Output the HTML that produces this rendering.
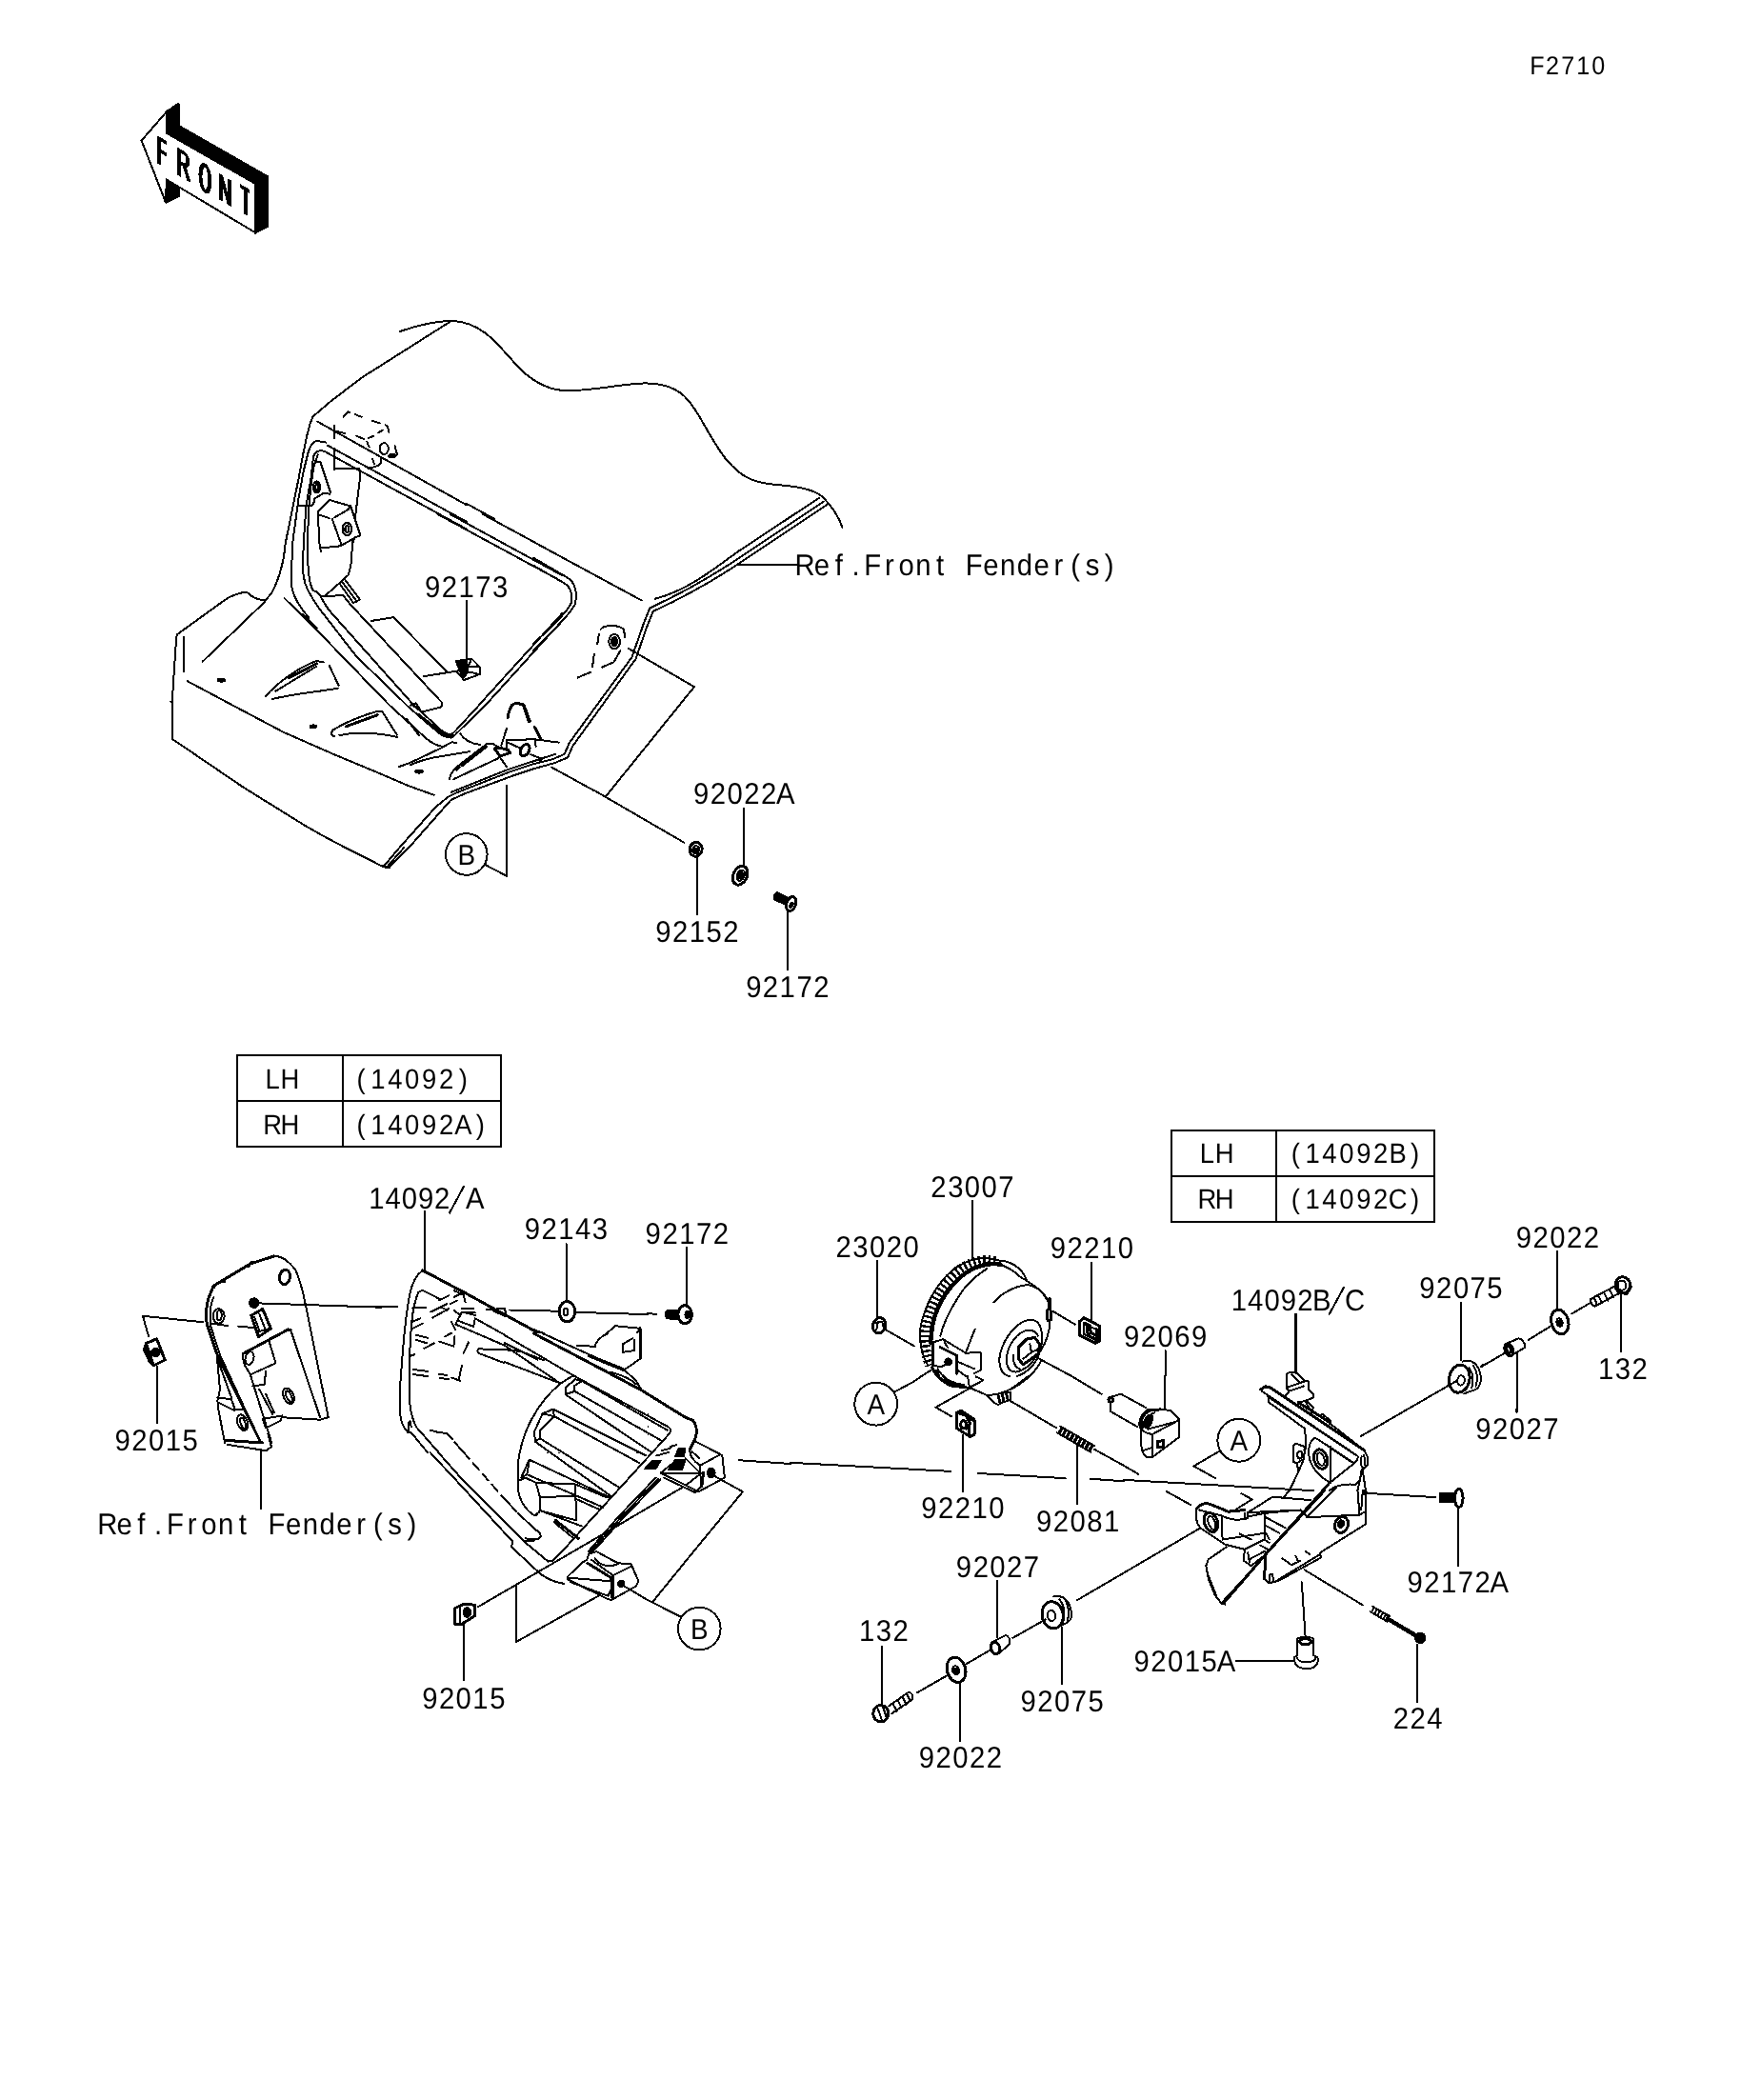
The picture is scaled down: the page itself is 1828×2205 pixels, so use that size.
<!DOCTYPE html>
<html><head><meta charset="utf-8"><title>F2710</title>
<style>
html,body{margin:0;padding:0;background:#fff;}
body{width:1828px;height:2205px;overflow:hidden;font-family:"Liberation Sans",sans-serif;}
svg{display:block;position:absolute;left:0;top:0;}
.l{font-family:"Liberation Sans",sans-serif;text-anchor:middle;fill:#000;}
.a path,.a line,.a polyline,.a circle,.a ellipse,.a rect{fill:none;stroke:#000;stroke-width:2;stroke-linecap:round;stroke-linejoin:round;}
.a .f{fill:#000;}
.a .w{fill:#fff;}
.a .d{stroke-dasharray:9 6;}
.a .t{stroke-width:1.5;}
.a .k{stroke-width:3;}
.a .s{stroke-width:10.5;stroke-dasharray:2.4 2.8;stroke-linecap:butt;}
.a .s6{stroke-width:7;stroke-dasharray:2.8 1.1;stroke-linecap:butt;}
.a .sp{stroke-width:8.5;stroke-dasharray:4.3 0.9;stroke-linecap:butt;}
.a .k4{stroke-width:4.5;}
</style></head><body>
<svg width="1828" height="2205" viewBox="0 0 1828 2205" shape-rendering="crispEdges" text-rendering="geometricPrecision">
<rect x="0" y="0" width="1828" height="2205" fill="#fff"/>

<g class="a">
<path class="k" d="M1360.5,1380.5 L1360.5,1440.8"/>
<path d="M1534,1367.6 L1534,1427.9"/>
<ellipse class="k" cx="1532.3" cy="1447.7" rx="10.68" ry="14.65" transform="rotate(10 1532.3 1447.7)"/>
<ellipse cx="1534.0" cy="1449.4" rx="3.79" ry="5.17" transform="rotate(10 1534.0 1449.4)"/>
<path d="M1535.7,1429.6 C1546,1426.2 1552.9,1433 1554.7,1445.1 C1555.5,1452 1552.9,1457.2 1549.5,1458.9 L1537.4,1463.2"/>
<path d="M1542.6,1436.5 C1546.9,1441.7 1547.8,1450.3 1545.2,1457.2"/>
<path d="M1546.9,1433.9 C1551.2,1439.9 1552.1,1448.6 1549.5,1455.5"/>
<path d="M1528.8,1450.3 L1428.9,1508"/>
<path d="M1555.5,1433.9 L1560,1432.2"/>
<path d="M1350.5,1443.4 L1353.9,1440.8 L1361.7,1441.7 L1370.3,1450.3 L1373.7,1450.3 L1373.7,1458.9 L1378.9,1464.1 L1378.9,1467.5 L1370.3,1471 L1363.4,1472.7"/>
<path d="M1350.5,1443.4 L1350.5,1457.2 L1365.1,1452 L1370.3,1450.3"/>
<path d="M1356.5,1443.4 L1365.1,1452"/>
<path d="M1350.5,1457.2 L1353.9,1460.6 L1349.6,1465.8"/>
<path d="M1353.9,1460.6 L1368.6,1455.5"/>
<path d="M1370.3,1471 L1377.2,1483 L1378.9,1477.9 L1372,1471"/>
<path class="k" d="M1323.8,1458.9 L1328.9,1455.8 L1334.1,1457.2 L1432.3,1522.7"/>
<path d="M1324.6,1460.6 L1425.4,1528.7"/>
<path d="M1331.5,1466.7 L1331.5,1471.8 L1370.3,1500.3"/>
<path d="M1331.5,1466.7 L1421.1,1526.1 L1425.4,1528.7 C1426.3,1531.3 1423.7,1534.7 1422,1536.4"/>
<path class="k" d="M1363.4,1472.7 L1396.1,1493.4"/>
<path d="M1384.9,1487.3 L1388.4,1484.7 L1397,1491.6 L1396.1,1495.1"/>
<path d="M1387.5,1488.2 L1392.7,1491.6"/>
<path d="M1397,1495.1 L1432.3,1522.7 L1435.8,1529.5 L1435.8,1538.2 L1430.6,1543.3 L1434,1565"/>
<path d="M1429.7,1529.5 C1428,1533 1428,1538.2 1430.6,1540.7"/>
<path d="M1432.3,1527.8 L1433.2,1538.2"/>
<path d="M1370.3,1500.3 L1371.1,1520.9"/>
<path d="M1380.6,1509.7 C1375.5,1512.3 1372.9,1520.9 1374.6,1529.5 C1376.3,1539.9 1384.1,1550.2 1396.1,1556.3"/>
<ellipse class="k" cx="1386.7" cy="1532.1" rx="6.89" ry="10.34" transform="rotate(-15 1386.7 1532.1)"/>
<ellipse cx="1386.7" cy="1532.1" rx="3.79" ry="6.89" transform="rotate(-15 1386.7 1532.1)"/>
<path d="M1397,1519.2 L1397,1557.1"/>
<path d="M1380.6,1509.7 L1384.1,1511.5 L1422,1536.4 L1396.1,1557.1 L1387.5,1565"/>
<path d="M1397.9,1520.9 L1418.5,1534.7"/>
<path d="M1358.2,1517.5 L1360.8,1515.8 L1370.3,1519.2 L1369.4,1522.7"/>
<path d="M1358.2,1517.5 L1357.9,1534.7 L1361.7,1536.4 L1366.8,1533"/>
<ellipse cx="1364.8" cy="1527.8" rx="2.58" ry="3.79" transform="rotate(0 1364.8 1527.8)"/>
<path d="M1361.7,1536.4 L1363.4,1545.1 L1353.9,1565"/>
<path d="M1370.3,1520.9 L1368.6,1533 L1363.4,1545.1"/>
<path d="M1396.1,1565 C1403,1558.8 1415.1,1558 1423.7,1558.8 L1428,1553.7 L1429.7,1543.3"/>
<path d="M1425.4,1565 L1428,1553.7"/>
<path d="M1354,1565 L1348.2,1571.7"/>
<path class="k" d="M1394.7,1558.8 L1332.7,1627.7 L1284.4,1683.7"/>
<path d="M1391.3,1565.1 L1331,1630.3"/>
<path d="M1434.3,1565 L1434.3,1600.1 L1386.1,1630.3 L1387,1635.5 L1343,1659.6 L1332.7,1662.2 L1327.5,1657.9"/>
<path d="M1425.4,1565 L1427.5,1590.6 L1372.3,1593.2"/>
<path d="M1427.5,1590.6 L1433.5,1587.2"/>
<path d="M1430.9,1565 L1429.2,1585.5"/>
<path d="M1403.3,1561.4 L1372.3,1592.4"/>
<circle class="f" cx="1432.6" cy="1567.4" r="2.07"/>
<path d="M1435.2,1567.9 L1500,1571.7"/>
<ellipse class="k" cx="1408.5" cy="1601.0" rx="6.89" ry="8.62" transform="rotate(20 1408.5 1601.0)"/>
<ellipse class="f" cx="1408.0" cy="1600.1" rx="3.10" ry="3.79" transform="rotate(20 1408.0 1600.1)"/>
<path d="M1346.5,1636.3 L1355.9,1643.2 L1365.4,1638.9"/>
<path d="M1360.3,1633.7 L1362.8,1638.9"/>
<path d="M1370.6,1628.6 L1374.9,1632"/>
<path d="M1337.9,1661.3 L1386.1,1632"/>
<path class="k" d="M1256.9,1583.8 C1259.4,1579.4 1265.5,1577.7 1270.6,1579.4 L1289.6,1587.2 L1306.8,1585.5"/>
<path d="M1256.9,1583.8 C1254.3,1590.6 1256,1599.3 1260.3,1604.4 L1286.2,1621.7 L1306.8,1626.8 L1327.5,1616.5"/>
<ellipse class="k" cx="1271.5" cy="1598.4" rx="6.89" ry="10.34" transform="rotate(-20 1271.5 1598.4)"/>
<ellipse cx="1272.4" cy="1598.9" rx="3.45" ry="7.24" transform="rotate(-20 1272.4 1598.9)"/>
<path d="M1259.4,1585.5 L1282.7,1591.5 L1283.6,1616.5"/>
<path d="M1282.7,1591.5 C1291.3,1595.8 1301.7,1596.7 1310.3,1594.1 L1310.3,1588.1 L1365.4,1585.5 L1372.3,1592.4"/>
<path d="M1306.8,1588.9 L1306.8,1594.1"/>
<path d="M1310.3,1588.1 L1336.1,1571.7 L1375.8,1575.1"/>
<path d="M1310.3,1592.4 L1327.5,1588.9 L1327.5,1616.5 L1332.7,1619.9"/>
<path d="M1327.5,1588.9 L1355.1,1586.3"/>
<path d="M1327.5,1592.4 L1349.9,1604.4"/>
<path d="M1327.5,1601 L1343,1609.6"/>
<path d="M1283.6,1616.5 L1329.2,1609.6 L1332.7,1616.5"/>
<path d="M1301.7,1610.5 L1313.7,1616.5"/>
<path d="M1323.2,1622.5 L1331,1626.8"/>
<path d="M1306.8,1626.8 L1306,1638.9 L1313.7,1644.1 L1329.2,1632"/>
<path d="M1310.3,1630.3 L1312,1640.6"/>
<path d="M1312,1637.2 L1328.4,1628.6"/>
<path d="M1287.9,1624.3 L1268.9,1637.2 L1266.3,1644.1 L1268.9,1657.9 L1275.8,1675.1 L1282.7,1683.7 L1286.2,1684.6"/>
<path d="M1268.1,1652.7 L1277.5,1676.8"/>
<path d="M1283.6,1682 L1331,1630.3"/>
<path class="k" d="M1327.5,1657.9 L1329.2,1630.3"/>
<path d="M1332.7,1662.2 L1333.5,1653.5 L1336.1,1652.7 L1337,1659.6"/>
<path d="M1260.3,1604.4 L1200,1639.8"/>
<path d="M1303.4,1568.2 L1314.6,1574.3 L1298.2,1584.6"/>
<path d="M1366.8,1661.3 L1370.6,1718.2"/>
<path d="M1362,1721.6 C1362,1718.2 1379.2,1718.2 1379.2,1721.6 L1379.2,1738 L1383.5,1740.6 L1383.5,1745"/>
<path d="M1362,1721.6 L1362,1738 L1358.5,1740.6 L1359.4,1745"/>
<ellipse class="k" cx="1370.6" cy="1723.7" rx="6.03" ry="3.10" transform="rotate(0 1370.6 1723.7)"/>
<path d="M1297.4,1744 L1358.5,1744"/>
<path d="M1369.7,1648.4 L1430.9,1685.4"/>
<path style="stroke-width:2;stroke-linecap:butt" d="M1443,1687.7 L1439.9,1693 M1446.1,1689.4 L1443,1694.7 M1449.2,1691.1 L1446.1,1696.5 M1452.3,1693 L1449.2,1698.3 M1455.4,1694.7 L1452.3,1700.1 M1458.5,1696.5 L1455.4,1701.8"/>
<path d="M1441.2,1686.8 L1459.3,1697.1"/>
<path d="M1438.7,1692.3 L1456.7,1702.7"/>
<path class="k4" d="M1456.7,1699.6 L1486.9,1717.5"/>
<circle class="f" cx="1491.2" cy="1719.9" r="5.17"/>
<path d="M1487.8,1726.8 L1487.8,1745"/>
<path d="M445.8,1272.1 L445.8,1333.6"/>
<path d="M594.5,1306 L594.5,1366.3"/>
<ellipse class="k" cx="595.4" cy="1377.2" rx="8.27" ry="10.68" transform="rotate(0 595.4 1377.2)"/>
<ellipse cx="594.0" cy="1377.2" rx="2.41" ry="3.79" transform="rotate(0 594.0 1377.2)"/>
<path d="M380,1372 L416.7,1372"/>
<path d="M535.1,1375.5 L585.9,1376.7"/>
<path d="M604.9,1377.9 L680,1380.1"/>
<path d="M443.8,1333.9 C436.9,1338.8 432.6,1347.4 430.3,1358.6 C427.4,1372.4 425.7,1389.6 423.9,1406.8 L420.5,1449.9 L420,1482.7 C420.5,1491.3 422.2,1496.4 428.2,1504.2 L431.7,1504.2 L448.9,1525"/>
<path d="M439.4,1356.9 C435.1,1365.5 433.4,1377.5 432,1389.6 L430,1424.1 L429.6,1463.7 C430,1477.5 431.7,1487.8 436.9,1498.2 L460.5,1525"/>
<path d="M429.1,1504.2 L428.8,1494.7 L430.5,1492.1 L431.7,1498.2"/>
<path class="k" d="M443.8,1333.9 L488.6,1357.7 L531.6,1381.3 L555.8,1394.4 L680,1463.7"/>
<path d="M439.4,1356.9 C441.2,1355.1 443.8,1354.8 446.3,1356 L462.7,1364.6"/>
<path d="M498.9,1384.4 L680,1485.2"/>
<path d="M478.2,1390.5 L602.3,1443.9"/>
<path d="M481.7,1387 L497.2,1393 L498.9,1384.4"/>
<path d="M478.2,1390.5 L485.1,1377.5 L498.9,1381"/>
<path d="M502.3,1416.3 C500.6,1418.9 501.5,1420.6 504.1,1421.5 L588.5,1453.4 L602.3,1445.6"/>
<path d="M502.3,1416.3 L543.7,1418 L583.3,1435.3"/>
<path d="M511,1375 L529.9,1374.1 L531.6,1381"/>
<path class="k" d="M517.9,1375.8 L529.9,1381.3"/>
<path d="M559.2,1396.5 L662.6,1444.7 L671.2,1451.6 L672.9,1455.9"/>
<path d="M555.8,1394.4 L607.5,1413.7 L624.7,1414.6"/>
<path d="M617.8,1424.1 L666,1451.6"/>
<path d="M609.2,1417.2 L623,1418.9 L617.8,1424.1"/>
<path d="M624.7,1414.6 C626.4,1406.8 629.9,1403.4 635,1401.7 L646.2,1392.2 L672.1,1394.8 L672.1,1427.5 L655.7,1438.7"/>
<path d="M654,1412 L664.3,1405.1 L672.1,1395.6"/>
<path d="M654,1412 L654,1420.6 L666,1418.9 L666,1406.8"/>
<path class="k" d="M672.1,1394.8 L672.1,1427.5"/>
<path d="M545.4,1525 C548.9,1498.2 562.7,1472.3 586.8,1455.1 L602.3,1445.6"/>
<path d="M593.7,1455.9 L604,1448.2 L610.9,1449.9"/>
<path d="M593.7,1455.9 L593.7,1463.7 L602.3,1462 L604,1455.9 L610.9,1451.6"/>
<path d="M593.7,1464.6 L680,1505.9"/>
<path d="M602.3,1462 L680,1498.2"/>
<path d="M560.9,1501.6 L569.5,1485.2 L580.7,1480.1 L680,1522.3"/>
<path d="M580.7,1480.1 L580.7,1487.8 L669.5,1525"/>
<path d="M569.5,1485.2 L580.7,1487.8"/>
<path d="M560.9,1501.6 L561.8,1513.7 L574.7,1525"/>
<path d="M567.8,1498.2 L580.7,1487.8"/>
<path d="M567,1499.9 L567,1510.2 L586.8,1525"/>
<path d="M452.4,1377.5 L469.6,1368.9 M454.1,1383.6 L471.3,1374.1 M461,1365.5 L471.3,1360.3 M462.7,1372.4 L469.6,1375.8 M476.5,1355.1 L486.8,1359.4 M476.5,1362 L483.4,1358.6 M486.8,1360.3 L488.6,1367.2 M473,1368.9 L479.9,1365.5 M476.5,1375.8 L483.4,1381 M485.1,1374.1 L497.2,1374.1 M485.1,1378.4 L498.9,1378.4"/>
<path d="M433.4,1373.2 L447.2,1373.2 M432.6,1387.9 L441.2,1384.4 M431.7,1395.6 L443.8,1389.6 M430,1424.1 L435.1,1422.3"/>
<path d="M436.9,1401.7 L448.9,1404.8 M436.9,1406.8 L448.1,1410.3 M445.5,1415.8 L455.8,1410.3 M461,1408.6 L476.5,1413.7 M473.9,1387.9 L478.2,1396.5 M477.4,1403.4 L476.5,1412 M467,1403.4 L473.9,1399.9 M486.8,1420.6 L492,1409.4"/>
<path d="M433.4,1437.9 L448.9,1439.9 M433.4,1443 L448.9,1445.1 M461,1443 L469.6,1443.9 M461.8,1447.3 L471.3,1447.8 M473.9,1446.5 L483.4,1449.9 M481.7,1448.2 L485.1,1433.5"/>
<path d="M451.5,1501.6 L461,1504.2 M462.7,1504.2 L469.6,1505.1 L474.8,1511.1 M477.4,1514.5 L486.8,1525"/>
<rect x="530.0" y="1400.0" width="149.9" height="124.9" style="fill:#fff;stroke:none"/>
<path class="k" d="M560.2,1400 L673,1459.4 L719.5,1488.2 L727.3,1491.3 C730.7,1494.8 732,1501.7 730.7,1508.6 L724.7,1521.5"/>
<path d="M569.6,1400 L626.5,1425.8 L654.1,1437 L667.9,1450 L673,1458.6"/>
<path d="M605.8,1412.9 L624.8,1413.8"/>
<path d="M617.9,1424.1 L654.1,1438.8"/>
<path d="M640.3,1440.5 C650.6,1443.1 662.7,1448.2 667.9,1453.4"/>
<path d="M623.9,1414.6 C626.5,1406.9 631.7,1402.6 638.6,1400"/>
<path d="M673,1400 L672.2,1426.7 L654.9,1438.8"/>
<path class="k" d="M673,1400 L672.2,1426.7"/>
<path d="M654.1,1411.2 L664.4,1405.2 M654.1,1411.2 L654.1,1419.8 L666.1,1418.1 L666.1,1406.9"/>
<path d="M530,1402.1 L602.4,1444.5 L702.3,1498.6 C704.9,1500.8 704,1504.3 702.3,1506 L593.8,1625"/>
<path d="M530,1410.3 L564.5,1427.6 M530,1412.9 L586.9,1451.7 M530,1417.2 L547.2,1419 L571.4,1428.4"/>
<path d="M530,1430.2 L588.6,1452.6"/>
<path d="M601.5,1444.5 L588.6,1452.6 C564.5,1472.4 547.2,1503.4 543.8,1537.9 L543.8,1563.7 C545.5,1575.8 552.4,1586.1 561,1591.3 L566.2,1587.8"/>
<path d="M593.8,1456.9 L604.1,1448.2 L611,1450"/>
<path d="M593.8,1456.9 L593.8,1464.1 L602.4,1461.2 L603.2,1455.1 L611,1450"/>
<path d="M611,1450 L700.6,1501.7"/>
<path d="M603.2,1460.7 L693.7,1512.3"/>
<path d="M594.1,1464.6 L683.4,1524.4"/>
<path d="M561,1503.4 L569.6,1484.4 L580.8,1479.6 L678.2,1528.4"/>
<path d="M569.6,1484.4 L581.7,1487 L671.3,1536.1"/>
<path d="M580.8,1479.6 L581.7,1487"/>
<path d="M561,1503.4 L561.9,1513.7 L567,1510.3 L567,1501.7 L581.7,1487"/>
<path d="M567,1510.3 L648.9,1561.1"/>
<path d="M561.9,1513.7 L641.1,1570.6"/>
<path d="M547.2,1551.6 L555.8,1532.7 L640.3,1572.3"/>
<path d="M555.8,1532.7 L553.3,1548.2 L547.2,1551.6"/>
<path d="M553.3,1548.2 L633.4,1582.7"/>
<path d="M543.8,1555.1 L551.5,1551.6 L562.7,1556.8 L604.1,1558.5 L605,1596.4 L567,1586.1 L562.7,1591.3"/>
<path d="M562.7,1556.8 L567,1572.3 L604.1,1570.6"/>
<path d="M567,1572.3 L567,1586.1"/>
<path d="M604.1,1558.5 L636.8,1572.3"/>
<path d="M605,1574 L629.9,1585.2"/>
<path d="M567,1586.1 L611,1602.5"/>
<path class="k" d="M583.4,1596.4 L607.5,1615.4"/>
<path d="M581.7,1598.2 L602.4,1615.4"/>
<path class="f" d="M677.3,1542.2 L685.1,1533.5 L693.7,1533.5 L688.5,1542.2 Z"/>
<path class="f" d="M702.3,1543 L709.2,1532.7 L719.5,1532.7 L716.1,1543 Z"/>
<path class="f" d="M709.2,1529.2 L712.7,1520.6 L719.5,1520.6 L717.8,1529.2 Z"/>
<path d="M689.4,1528.4 L702.3,1524.9 M694.6,1523.2 L704,1520.6 M704,1518.9 L710.1,1517.2"/>
<path d="M730.7,1513.7 L755.7,1526.7 L758.3,1528.4 L760.9,1551.6 L733.3,1566.3 L729.9,1565.4"/>
<path d="M735.1,1538.7 L755.7,1527.5"/>
<path d="M735.1,1538.7 L735.9,1560.3"/>
<path d="M724.7,1521.5 C723,1527.5 728.2,1534.4 735.1,1538.7"/>
<path d="M726.4,1524.1 L734.2,1531"/>
<ellipse class="f" cx="746.8" cy="1546.5" rx="3.79" ry="4.82" transform="rotate(0 746.8 1546.5)"/>
<path class="k" d="M738.5,1546.5 L736.8,1560.3"/>
<path d="M693.7,1546.5 L710.9,1532.7"/>
<path d="M693.7,1546.5 L735.9,1547.3 L719.5,1531"/>
<path d="M693.7,1546.5 L731.6,1565.4"/>
<path d="M697.1,1551.6 L729.9,1567.1 L735.1,1562"/>
<path d="M735.9,1547.3 L721.3,1558.5"/>
<path d="M775.5,1533.2 L830,1537"/>
<path d="M748.8,1549.1 L779.9,1566.3 L731.6,1625"/>
<path d="M716.1,1562 L650.6,1600.7"/>
<path d="M691.1,1552.5 L650.6,1594.7 L623.9,1625"/>
<path d="M693.4,1553.4 L652.7,1595.6 L626.5,1625"/>
<path d="M688.5,1551.6 L648.9,1593 L621.3,1625"/>
<path d="M530,1574 L542.1,1587 M543.8,1588.7 L561,1605.1"/>
<path d="M551.5,1615.4 L564.5,1616.3 L567.9,1613.7 L567,1609.4 L561.9,1605.9"/>
<path d="M551.5,1618 L561,1617.5"/>
<path d="M451.5,1525 L476.5,1551.7 L538.5,1618.9 L536.8,1624.1 L562.7,1648.2 C569.5,1655.1 579.9,1661.1 591.9,1662.8"/>
<path d="M460.1,1525 L486.8,1555.1 L550.6,1618.9 L575.6,1639.6 L580.7,1638.7"/>
<path class="d" d="M486.8,1525 L529.9,1574.1"/>
<path d="M593.7,1624.9 L579.9,1638.7"/>
<path d="M623.8,1624.9 L618.7,1631 L616.1,1637.9"/>
<path d="M626.1,1624.9 L620.9,1631.3"/>
<path d="M621.2,1624.9 L617.8,1629.2"/>
<path d="M650.5,1600.8 L502.3,1687"/>
<path d="M616.1,1637.9 L618.7,1631 L626.4,1629.2 L648.8,1641.3 L662.6,1642.2 L670.4,1660.3 L667.8,1665.4 L641.9,1680.1 L638.5,1679.2 L596.3,1658.5 L596.3,1655.1 L611.8,1640.4 L616.1,1637.9"/>
<path d="M621.2,1637.9 L643.6,1654.2 L662.6,1644.7"/>
<path d="M643.6,1654.2 L643.6,1679.2"/>
<path class="k" d="M616.9,1641.3 L641.9,1656.8 L642.8,1677.5"/>
<path d="M598,1656.8 L641.9,1660.3"/>
<path d="M598.8,1661.1 L638.5,1675.8 L641.9,1668"/>
<circle class="f" cx="652.3" cy="1662.8" r="3.10"/>
<path d="M624.7,1636.1 C628.1,1643 638.5,1646.5 648.8,1642.2"/>
<path d="M542,1665.4 L542,1724 L628.1,1675.8"/>
<path d="M654,1664.6 L680,1680.1"/>
<path class="k" d="M477.4,1688.7 L486.8,1684.4 L498.9,1685.2 L498.9,1696.4 L485.1,1705.1 L477.9,1705.9 Z"/>
<ellipse class="f" cx="490.3" cy="1693.0" rx="3.79" ry="4.82" transform="rotate(0 490.3 1693.0)"/>
<path d="M483.4,1688.7 L483.4,1704.2"/>
<path d="M487.2,1705.9 L487.2,1725"/>
<path d="M487.1,1725 L487.1,1764.1"/>
<path d="M680.1,1680 L714.1,1697.4"/>
<path d="M731.5,1625.1 L685.4,1681.8"/>
<path d="M1021,1261 L1021,1321.7"/>
<path d="M1145.9,1325.5 L1145.9,1386.3"/>
<path d="M1223.5,1418.2 L1223.5,1445"/>
<path class="s" d="M1045.1,1324.4 C1031.3,1321.7 1016.7,1325.5 1004.1,1335.8 C986.9,1351 975.8,1371.6 972.1,1392.3 C970.3,1406.1 971.4,1421.6 976.5,1433.7"/>
<path d="M1046.8,1323.4 C1033,1318.2 1015.8,1321.7 1000.3,1333.7 C983.1,1347.5 971,1371.6 966.7,1392.3 C965,1406.1 966.7,1421.6 974.5,1433.7"/>
<path style="stroke-width:4.5" d="M1050.3,1327.7 C1036.5,1325.1 1021,1330.3 1008.9,1340.6 C993.4,1354.4 983.1,1371.6 978.8,1392.3 L977,1409.5"/>
<path d="M1046.8,1323.4 C1060.6,1323.4 1072.7,1330.3 1077.9,1344.1"/>
<path d="M1050.3,1327.7 C1057.2,1330.3 1064.1,1333.7 1071,1340.6 L1079.6,1345.8 C1088.2,1351 1095.1,1356.1 1100.3,1364.7"/>
<path d="M1043.4,1367.3 C1053.7,1356.1 1067.5,1350.1 1077.9,1349.2 C1086.5,1349.2 1095.1,1356.1 1099.4,1364.7"/>
<path class="k" d="M1102,1363 L1103.7,1385.4"/>
<path d="M1100.3,1364.7 C1102,1375.1 1098.5,1382 1100.3,1387.1"/>
<path d="M1099.4,1375.1 L1099.4,1385.4 L1103.7,1386.3"/>
<path d="M1102,1387.1 C1102.8,1399.2 1098.5,1409.5 1091.6,1419.9"/>
<path d="M1036.5,1332 C1022.7,1340.6 1012.4,1351 1005.5,1363 C996.9,1376.8 990,1390.6 987.4,1402.7"/>
<path d="M1023.6,1395.8 L1014.1,1419.9"/>
<path d="M979.6,1409.5 L990,1406.1 L1014.1,1420.7 L1029.6,1419.9 L1029.6,1438.8 L1022.7,1442.3"/>
<path class="k" d="M979.6,1409.5 L979.6,1433.7"/>
<path class="k" d="M987.4,1414.7 L1004.6,1423.3 L1004.6,1442.3"/>
<circle class="f" cx="995.7" cy="1429.9" r="3.45"/>
<path d="M979.6,1433.7 L988.2,1435.4 L995.1,1431.1"/>
<path d="M1004.6,1429.4 L1022.7,1437.1"/>
<path d="M1005.5,1438.8 L1014.1,1445"/>
<path d="M991.7,1409.5 L995.1,1414.7"/>
<path d="M967.6,1445 L979.6,1437.5"/>
<path d="M983.1,1438.8 L986.5,1445"/>
<path d="M1091.6,1419.9 C1095.1,1409.5 1095.1,1395.8 1089.9,1388.9 C1084.7,1383.7 1074.4,1385.4 1065.8,1394 C1053.7,1406.1 1046.8,1423.3 1050.3,1435.4 C1052,1442.3 1057.2,1445 1060.6,1445"/>
<path d="M1067.5,1445 C1077.9,1442.3 1088.2,1431.9 1091.6,1419.9"/>
<path d="M1089.9,1402.7 C1086.5,1395.8 1077.9,1394.9 1071,1400.1 C1060.6,1407.8 1055.5,1421.6 1057.2,1431.9 C1058.9,1440.6 1065.8,1442.3 1072.7,1438.8 C1081.3,1434.5 1088.2,1425.1 1091.6,1416.4"/>
<path class="k" d="M1069.2,1414.7 L1077.9,1406.1 L1086.5,1404.4 L1091.6,1411.3 L1089.9,1421.6 L1074.4,1432.8 L1069.2,1426.8 Z"/>
<path d="M1081.3,1411.3 L1083,1419.9 M1074.4,1426.8 L1083,1419.9 L1090.8,1416.4"/>
<path d="M1064.1,1423.3 C1063.2,1430.2 1065.8,1435.4 1071,1438"/>
<path d="M1105.4,1376.8 L1128.7,1390.6"/>
<path class="k" d="M1133,1388 L1138.2,1383.7 L1154.5,1392.3 L1154.5,1407.8 L1150.2,1410.4 L1133,1401.8 Z"/>
<path d="M1138.2,1390.6 L1138.2,1400.9 L1150.2,1407"/>
<path d="M1138.2,1390.6 L1153.7,1396.6"/>
<path class="k" d="M1141.6,1392.3 C1139.9,1399.2 1143.3,1404.4 1149.4,1405.2"/>
<path class="k" d="M1151.1,1395.8 L1151.6,1406.1"/>
<path d="M1088.2,1425.1 L1125.2,1445"/>
<path d="M960,1450.3 L967.5,1445"/>
<path d="M983.4,1445 C988.6,1450.2 995.5,1454.5 1000.6,1456.2 L1016.1,1457"/>
<path class="k" d="M990.3,1445 C995.5,1450.2 1000.6,1453.6 1007.5,1455.3"/>
<path d="M1016.1,1445 L1017.9,1457 L1032.5,1449.3 L1024.7,1445.5"/>
<path d="M1017.9,1457.9 L982.5,1477.7 L998.9,1487.2"/>
<path d="M1017.9,1457 L1035.9,1464.8 C1040.3,1470 1043.7,1473.4 1048,1475.1 L1052.3,1472.6 L1060.9,1470 L1060.9,1462.2 L1054,1462.2"/>
<path d="M1035.9,1464.8 C1045.4,1465.1 1054,1462.2 1060.9,1458.8 C1069.5,1452.7 1076.4,1447.6 1079.9,1445"/>
<path class="k" d="M1048,1464.8 L1049.7,1471.7 M1052.3,1463.9 L1054,1470.8 M1056.6,1463.1 L1058.3,1470"/>
<path d="M1059.2,1470 L1109.2,1499.3"/>
<path style="stroke-width:3.3;stroke-linecap:butt" d="M1115.9,1498.1 L1111.6,1505.5 M1119.9,1500.3 L1115.6,1507.9 M1123.8,1502.5 L1119.5,1510.1 M1127.8,1505 L1123.5,1512.4 M1131.8,1507.2 L1127.6,1514.6 M1135.9,1509.4 L1131.6,1516.8 M1139.9,1511.7 L1135.5,1519.3 M1143.8,1513.9 L1139.5,1521.5 M1147.8,1516.3 L1143.5,1523.7"/>
<path d="M1113,1497.5 L1148.8,1517.9"/>
<path d="M1110,1504.4 L1145.4,1524.8"/>
<path d="M1148.8,1521.7 L1180,1538.9"/>
<path d="M1130.7,1518.2 L1130.7,1579.4"/>
<path class="k" d="M1004.1,1483.8 L1009.2,1481.2 L1023,1490.6 L1023,1506.2 L1018.7,1508.7 L1004.1,1499.3 Z"/>
<ellipse class="k" cx="1011.8" cy="1495.8" rx="3.10" ry="4.14" transform="rotate(0 1011.8 1495.8)"/>
<path class="k" d="M1017,1496.7 L1017.9,1505.3"/>
<path d="M1016.1,1495.8 L1017.9,1506.2 M1009.2,1482 L1023,1493.2"/>
<path d="M1011,1507 L1011,1566.5"/>
<path d="M830,1535.8 L998,1544.9"/>
<path d="M1027.3,1547 L1118.7,1552.2"/>
<path d="M1144.5,1552.7 L1180,1555.3"/>
<path d="M1125.2,1445 L1156.6,1463.9"/>
<path d="M1223.2,1445 L1223.2,1479.9"/>
<path d="M1165.5,1467 C1162.9,1467.9 1162.9,1472.2 1166.3,1473 L1165.5,1481.7 L1193.9,1498"/>
<path d="M1168.9,1466.2 L1176.7,1463.6 L1203.4,1478.2"/>
<path d="M1165.5,1467 L1168.9,1466.2"/>
<path class="k" d="M1198.2,1500.6 C1194.8,1493.7 1198.2,1485.1 1205.1,1480.8 L1218.9,1479.9"/>
<path d="M1218.9,1479.9 L1228.4,1480.8 L1237.9,1490.3 L1237.9,1509.2 L1210.3,1529.9 L1203.4,1529.9 C1199.9,1526.5 1198.2,1521.3 1198.2,1516.1 L1198.2,1500.6"/>
<path d="M1205.1,1500.6 L1234.4,1492.9"/>
<path d="M1210.3,1505.8 L1210.3,1529.9"/>
<path d="M1210.3,1505.8 L1234.4,1492.9 L1237.9,1490.3"/>
<path d="M1200.8,1523 L1208.6,1520.4"/>
<path d="M1199.1,1500.6 C1200.8,1504.1 1206.8,1505.8 1210.3,1505.8"/>
<path class="k" d="M1199.1,1498.9 C1196.5,1492 1199.9,1484.3 1207.7,1480.8"/>
<path d="M1203.4,1498.9 C1201.7,1492 1205.1,1486 1212,1483.4"/>
<path class="k" d="M1215.1,1513.5 L1221.5,1512.7 L1221.5,1519.6 L1215.1,1519.9 Z"/>
<path d="M1180,1538.9 L1195.6,1548"/>
<path d="M1224.9,1566.1 L1249.9,1579.9"/>
<path d="M1180,1553.9 L1379.1,1565.2"/>
<path d="M1280.1,1523.9 L1253.4,1539.4 L1275.8,1552"/>
<ellipse class="f" cx="1205.5" cy="1492.3" rx="3.79" ry="7.24" transform="rotate(25 1205.5 1492.3)"/>
<circle class="k" cx="1166.2" cy="1469.9" r="2.24"/>
<path d="M1093.6,1428.2 C1087.9,1439.7 1076.4,1451.2 1060.3,1459.3"/>
<path class="k" d="M978.7,1436.3 C983.3,1446.6 993.7,1454.7 1014.3,1456.7"/>
<path d="M984.5,1437.4 C989.1,1445.5 998.2,1452.4 1012,1454.1"/>
<path class="k" d="M1007.4,1484 L1014.3,1486.3 L1018.9,1494.9 L1014.3,1500"/>
<path class="k" d="M1138.4,1389.2 L1144.1,1391.5 L1145.3,1399.5 L1150,1401.8"/>
<path class="k" d="M220.6,1358.9 L224.1,1350.3 L262.8,1327 L287.8,1318.9"/>
<path d="M287.8,1318.9 C294.7,1318.4 303.3,1324.5 310.2,1333.1 C315.4,1345.1 318.8,1358.9 321.4,1372.7 L344.7,1488.2 L336.1,1490.7 L296.4,1488.2"/>
<path class="k" d="M220.6,1358.9 C217.2,1365.8 215.5,1379.6 217.2,1389.9 L227.5,1421 L274,1515"/>
<path d="M224.1,1362.4 C220.6,1371 219.8,1383 221.5,1393.4 L231,1422.7 L272.3,1512.3"/>
<path d="M261.1,1330.5 L263.7,1325.3 L272.3,1324.5"/>
<path d="M224.9,1352 L227.5,1346.9 L236.1,1346"/>
<ellipse class="k" cx="299.0" cy="1340.8" rx="5.51" ry="7.75" transform="rotate(10 299.0 1340.8)"/>
<circle class="f" cx="266.8" cy="1368.1" r="4.82"/>
<path d="M271.5,1368.4 L400,1372.7"/>
<ellipse cx="229.6" cy="1381.8" rx="6.03" ry="7.75" transform="rotate(0 229.6 1381.8)"/>
<ellipse cx="230.1" cy="1381.3" rx="2.58" ry="5.17" transform="rotate(0 230.1 1381.3)"/>
<path d="M223.2,1389.9 L238.7,1392"/>
<path d="M249.9,1392.5 L267.1,1394.3"/>
<path class="k" d="M263.7,1381.3 L275.8,1374.4 L284.4,1395.1 L271.5,1403.7 Z"/>
<path d="M267.1,1383 L272.3,1396.8 M272.3,1379.6 L278.3,1395.1 M269.7,1398.6 L282.7,1395.1"/>
<path d="M212.9,1388.2 L150,1381.8 L156,1402.9"/>
<path class="k" d="M153.4,1410.6 L164.6,1405.8 L173.2,1427.9 L161.2,1433.9 Z"/>
<circle class="f" cx="163.4" cy="1420.1" r="4.31"/>
<path class="f" d="M150.8,1416.7 L153.4,1410.6 L161.2,1433.9 L156.9,1430.4 Z"/>
<path d="M165,1434.7 L165,1494.2"/>
<path class="k" d="M255.9,1421 L302.5,1396 L305.1,1396.5"/>
<path d="M305.1,1396.5 L336.1,1488.2"/>
<path d="M255.9,1421 C254.2,1424.4 255.1,1427.9 256.8,1433 L262.8,1443.4 L289.5,1431.3 L282.7,1408.9"/>
<ellipse cx="262.0" cy="1426.1" rx="4.31" ry="6.89" transform="rotate(15 262.0 1426.1)"/>
<path d="M262.8,1443.4 L285.2,1515"/>
<path d="M265.4,1455.4 L277.5,1453.7 L279.2,1439.9"/>
<path d="M272.3,1458.9 L286.1,1484.7"/>
<path d="M279.2,1464 L287.8,1483"/>
<ellipse cx="303.0" cy="1465.8" rx="5.17" ry="8.62" transform="rotate(-25 303.0 1465.8)"/>
<ellipse cx="303.3" cy="1466.1" rx="2.58" ry="6.03" transform="rotate(-25 303.3 1466.1)"/>
<path d="M275.8,1489.9 L296.4,1486.4 L294.7,1491.6 L279.2,1499.4 Z"/>
<path d="M227.5,1421 L231,1458.9 L228.4,1470.9 L229.2,1479.5 L236.1,1515"/>
<path d="M228.4,1467.5 L243,1469.2 L246.5,1479.5 L255.9,1480.4"/>
<path d="M229.2,1472.7 L246.5,1481.3"/>
<path d="M227.5,1424.4 L243,1467.5"/>
<ellipse cx="254.6" cy="1493.7" rx="5.17" ry="8.62" transform="rotate(-20 254.6 1493.7)"/>
<ellipse cx="255.1" cy="1494.2" rx="2.41" ry="5.86" transform="rotate(-20 255.1 1494.2)"/>
<path class="k" d="M236.1,1512.3 L275.8,1515"/>
<path d="M239,1516.9 L279.3,1523.2 L284.9,1519.1 L281.5,1505.7"/>
<path d="M274.1,1523.6 L274.1,1584.5"/>
<path d="M720.8,1309.6 L720.8,1370.3"/>
<ellipse class="k" cx="719.1" cy="1380.3" rx="7.24" ry="9.48" transform="rotate(0 719.1 1380.3)"/>
<ellipse class="f" cx="721.7" cy="1380.3" rx="2.24" ry="3.45" transform="rotate(0 721.7 1380.3)"/>
<path class="f" d="M700.5,1375.8 L711.7,1375.5 L711.7,1384.8 L700.5,1384.4 C698.3,1382.3 698.3,1378 700.5,1375.8 Z"/>
<path d="M680,1379.2 L689.6,1379.8"/>
<path d="M921.1,1323.4 L921.1,1383.2"/>
<ellipse class="k" cx="923.1" cy="1391.8" rx="6.55" ry="8.27" transform="rotate(15 923.1 1391.8)"/>
<path d="M918.5,1389.2 L926.2,1387.5 L927.9,1394.4 M920.2,1396.1 L921.9,1388.4"/>
<path d="M929.7,1396.1 L960,1413.4"/>
<path d="M939.1,1461.6 L960,1450.4"/>
<ellipse class="k" cx="730.6" cy="891.8" rx="6.55" ry="7.41" transform="rotate(15 730.6 891.8)"/>
<ellipse cx="730.6" cy="892.2" rx="3.45" ry="4.14" transform="rotate(15 730.6 892.2)"/>
<ellipse class="f" cx="730.6" cy="892.5" rx="1.55" ry="1.90" transform="rotate(15 730.6 892.5)"/>
<path d="M731.9,899.9 L731.9,960.3"/>
<path d="M781,848.8 L781,909.4"/>
<ellipse class="k" cx="777.2" cy="919.2" rx="7.24" ry="10.34" transform="rotate(25 777.2 919.2)"/>
<ellipse cx="777.7" cy="919.2" rx="3.79" ry="5.86" transform="rotate(25 777.7 919.2)"/>
<ellipse class="f" cx="777.7" cy="919.2" rx="2.24" ry="3.45" transform="rotate(25 777.7 919.2)"/>
<ellipse class="k" cx="830.6" cy="949.1" rx="4.82" ry="7.75" transform="rotate(20 830.6 949.1)"/>
<ellipse class="f" cx="830.9" cy="950.3" rx="1.38" ry="2.76" transform="rotate(20 830.9 950.3)"/>
<path class="f" d="M812.5,940.4 L815.9,937 L828,943 L825.4,949.9 L813.4,944.7 Z"/>
<path d="M826.8,957.7 L826.8,1018"/>
<path d="M1634.9,1313.4 L1634.9,1374.3"/>
<ellipse class="k" cx="1637.8" cy="1388.0" rx="8.96" ry="12.92" transform="rotate(-15 1637.8 1388.0)"/>
<ellipse cx="1637.5" cy="1388.6" rx="3.10" ry="4.31" transform="rotate(-15 1637.5 1388.6)"/>
<ellipse class="f" cx="1637.5" cy="1388.6" rx="1.55" ry="2.24" transform="rotate(-15 1637.5 1388.6)"/>
<path d="M1650.4,1379.4 L1669.4,1368.2"/>
<path d="M1670.2,1363.9 L1699.5,1348.4"/>
<path d="M1674.5,1371.7 L1703,1356.2"/>
<ellipse cx="1673.2" cy="1367.4" rx="2.58" ry="4.31" transform="rotate(-25 1673.2 1367.4)"/>
<path d="M1678,1360.5 L1682.3,1368.2 M1684,1357 L1688.3,1365.6 M1690,1354.4 L1694.3,1362.2 M1695.2,1351 L1699.5,1358.7"/>
<ellipse class="k" cx="1703.8" cy="1349.3" rx="7.75" ry="8.62" transform="rotate(0 1703.8 1349.3)"/>
<ellipse cx="1703.0" cy="1349.6" rx="4.31" ry="5.17" transform="rotate(0 1703.0 1349.6)"/>
<path class="k" d="M1698.7,1356.2 L1708.1,1358.7 L1712.4,1351"/>
<path d="M1702.1,1359.6 L1702.1,1419.6"/>
<path d="M1629.7,1391.5 L1604.7,1407"/>
<path d="M1580.6,1411.3 L1594.4,1405.3 C1597.9,1405.3 1601.3,1409.6 1601.3,1414.7 L1588.4,1422.5"/>
<ellipse class="k" cx="1584.4" cy="1417.3" rx="4.31" ry="6.55" transform="rotate(-20 1584.4 1417.3)"/>
<ellipse cx="1584.4" cy="1417.3" rx="1.72" ry="3.45" transform="rotate(-20 1584.4 1417.3)"/>
<path d="M1592.7,1421.6 L1592.7,1482.8"/>
<path d="M1554.8,1435.4 L1579.8,1420.8"/>
<path d="M1499.9,1571.7 L1506.8,1572.2"/>
<path class="f" d="M1512,1567.9 L1527.5,1567.9 L1527.5,1576.8 L1512,1576.8 Z"/>
<ellipse class="k" cx="1531.8" cy="1573.0" rx="4.31" ry="9.48" transform="rotate(0 1531.8 1573.0)"/>
<path d="M1531.3,1583 L1531,1643.7"/>
<path d="M1592.1,1480 L1592.1,1482.6"/>
<path d="M1047,1659.7 L1047,1718.8"/>
<path d="M926,1728.4 L926,1790"/>
<path d="M1114.8,1708.5 L1114.8,1768.2"/>
<path d="M1008,1767 L1008,1827.9"/>
<ellipse class="k" cx="1105.2" cy="1695.8" rx="11.03" ry="14.24" transform="rotate(-10 1105.2 1695.8)"/>
<ellipse cx="1104.0" cy="1696.5" rx="4.14" ry="5.51" transform="rotate(-10 1104.0 1696.5)"/>
<path d="M1106.3,1676.3 C1118.9,1674 1124.7,1684.3 1125.1,1695.8 C1124.7,1700.4 1122.4,1703.2 1118.9,1704.5 L1109.8,1708.5"/>
<path d="M1112.1,1679.3 C1117.8,1685.5 1118.9,1695.8 1116.2,1703.9"/>
<path d="M1116.6,1677.4 C1122.4,1684.3 1123.1,1694.7 1120.8,1702.3"/>
<path d="M1130.9,1680.2 L1200,1639.8"/>
<path d="M1097.8,1700.4 L1063.3,1719.9"/>
<path d="M1043.6,1723.4 L1055.8,1717 C1059.2,1717.6 1061,1722.2 1060.4,1726.1 L1048.9,1736"/>
<ellipse class="k" cx="1045.0" cy="1730.3" rx="4.60" ry="6.43" transform="rotate(-15 1045.0 1730.3)"/>
<path d="M1039.7,1732.6 L1015.1,1746.8"/>
<ellipse class="k" cx="1004.1" cy="1753.3" rx="9.65" ry="13.33" transform="rotate(-15 1004.1 1753.3)"/>
<ellipse cx="1003.6" cy="1753.9" rx="3.45" ry="4.60" transform="rotate(-15 1003.6 1753.9)"/>
<ellipse class="f" cx="1003.6" cy="1753.9" rx="1.61" ry="2.30" transform="rotate(-15 1003.6 1753.9)"/>
<path d="M994.9,1759 L962.7,1777.4"/>
<path d="M933.3,1791.2 L954,1776.7 C957.7,1777.4 959.3,1780.8 958.1,1784.3 L936.3,1799.2"/>
<path d="M937.4,1788.9 L941.6,1796.5 M942.5,1785.4 L946.6,1792.8 M947.8,1782 L951.7,1789.6 M952.4,1779 L955.8,1785.9"/>
<ellipse class="k" cx="924.8" cy="1799.2" rx="8.04" ry="8.73" transform="rotate(0 924.8 1799.2)"/>
<path d="M921.4,1793.5 L926,1806.1 M927.1,1792.3 L931,1803.8"/>
<path d="M1359.4,1745 C1361.5,1754.7 1382.2,1754.7 1383.6,1745"/>
<path d="M1361.5,1740.2 C1363.8,1747.1 1379.9,1747.1 1381.7,1740.2"/>
<path d="M1487.9,1745 L1487.9,1786.8"/>
<path d="M420.1,347.9 C436.5,342.4 455.4,337.2 473.5,336.9 C489.9,337.2 501.9,343.3 512.3,351.9 C524.3,362.2 534.7,375.1 545,386.3 C557.1,398.4 570.9,407.9 590,409.9"/>
<path d="M473.5,337.2 L379.6,396.7 L346.9,421.7 L328.8,437.2"/>
<path d="M489.9,528.8 L519.2,545"/>
<path d="M489.9,548 L484.7,545"/>
<path d="M328.5,437.2 L325.6,444.7 L322.2,457.9 L318.1,477.4 L313.5,502.7 L307.2,533.7 L299.8,570"/>
<path d="M342.3,464.6 L331.9,462.7 C328.5,464.8 325.6,468.2 323.9,474 L318.7,494.7 L313.5,523.4 L307.2,570"/>
<path d="M341.1,473.8 L336,473.1 C331.9,474 329.6,476.3 328.8,480.9 L326.8,500.4 L321.6,530.3 L318.7,570"/>
<path d="M333.7,477.4 L329.6,488.9 L326.8,507.3 L324.5,530.3 L322.7,570"/>
<path d="M312.4,530.9 L326.8,530.9 C328.5,530.3 329.6,528.6 329.6,526.8 L329.6,524 L340,517.6 L346.3,518.8 L346.9,516.5 L336.5,485.5 L332.5,484.9"/>
<ellipse cx="332.5" cy="511.3" rx="3.68" ry="5.97" transform="rotate(0 332.5 511.3)"/>
<ellipse cx="332.7" cy="511.3" rx="1.38" ry="3.91" transform="rotate(0 332.7 511.3)"/>
<path d="M333.4,442.7 L490,530.3"/>
<path d="M344,467.7 L490,547.9"/>
<path d="M340.5,473.8 L490,555.6"/>
<path d="M350.9,446.7 L350.9,460.2"/>
<path d="M352.6,452.7 L361.8,455"/>
<path d="M350.9,470.5 L350.9,493.5"/>
<path d="M352,491.8 L377.3,491.8 L378.5,498.1 L372.7,545.2"/>
<path class="d" d="M360.6,437.8 L365.8,432.4 L379.6,437.8 M390.5,441.8 L406.6,447 L409.5,457.3 M402,451.6 L396.8,454.5 M392.2,457.9 L386.5,460.2 M381.9,460.8 L374.4,457.9 M385.3,463.7 L387.6,469.4 M391.1,482 L392.8,487.2"/>
<ellipse cx="403.2" cy="471.1" rx="4.60" ry="5.97" transform="rotate(0 403.2 471.1)"/>
<path d="M414.6,468.2 L416.9,476.9 L414.6,479.7 L408.3,479.7"/>
<path class="f" d="M407.7,479.2 L410.6,476.9 L414.6,477.4 L414.1,479.7 Z"/>
<path d="M400.3,482 C401.4,486.6 398,490.1 387.6,491.2 L386.5,491.8"/>
<path d="M333.7,537.7 L346.3,525.1 L368.1,531.4 L378.5,562.4 L372.7,564.2 L370.4,570"/>
<path d="M333.7,537.7 L335.4,570"/>
<path d="M335.4,540.6 L345.7,544.1"/>
<path d="M350.9,543.5 L365.8,534.9"/>
<path d="M348.6,544.6 L357.8,570"/>
<path d="M368.1,531.4 L365.2,534.9"/>
<ellipse cx="364.4" cy="555.6" rx="4.82" ry="6.32" transform="rotate(0 364.4 555.6)"/>
<ellipse cx="364.4" cy="555.6" rx="2.07" ry="3.68" transform="rotate(0 364.4 555.6)"/>
<path d="M590,410 C618.6,411.7 646.2,403.4 677.2,402.4 C697.9,402.4 711.6,407.6 722,419.6 C735.8,435.1 746.1,462.7 763.3,483.4 C777.1,498.9 787.5,505.8 808.1,508.2 C828.8,510.3 849.5,511 863.3,521.3 C873.6,531.6 880.5,542 884.6,554"/>
<path d="M859.8,523 L773.7,579.9 C746.1,600.6 718.5,621.2 687.5,628.8"/>
<path d="M865,526.5 L766.8,591.9 C732.3,614.3 704.7,628.1 682.3,638.5 L675.5,655.7 L663.4,690.2 L597.9,779.8 L592.7,791.8 L580.7,797 L560,802.2"/>
<path d="M868.4,529.9 L770.2,595.4 C735.8,617.8 708.2,631.6 685.8,641.9 L678.9,659.1 L667.5,691.9 L601.4,783.2 L596.2,795.3 L582.4,801.1 L560,807.3"/>
<path d="M775.4,593 L835.7,593"/>
<path d="M560,568.9 L673.7,630.5"/>
<path d="M560,585.7 L596.2,606.8 C603.1,610.9 606.5,621.2 604.1,633.3 C601.4,641.9 580.7,662.6 560,683.3"/>
<path d="M560,593.7 L592.7,612.6 C598.6,616.1 601.4,623 599.6,633.3 C596.2,641.9 577.2,660.9 560,675.7"/>
<path d="M659.9,680.9 L728.9,721.2 L641,830.1"/>
<path d="M579,805.6 L623.8,830.1"/>
<ellipse cx="645.1" cy="673.6" rx="5.86" ry="7.58" transform="rotate(0 645.1 673.6)"/>
<ellipse class="f" cx="645.1" cy="673.6" rx="3.10" ry="4.48" transform="rotate(0 645.1 673.6)"/>
<path d="M630.6,660.9 C634.1,655.7 649.6,655.7 654.8,660.9 L656.5,669.5"/>
<path d="M628.9,666 L627.2,676.4 M623.8,686.7 L622,700.5 M606.5,711.5 L620.3,705.7 M632.4,700.5 L644.4,695.3 L651.3,683.3"/>
<path d="M294.4,600 C291,610.3 288.4,619 284.1,624.1 L278.9,630.2 C272,630.2 265.1,627.6 259.9,622.4 L253.9,622.4 C246.2,624.1 241,626.7 235.8,630.2 L185.8,666.3 C184.1,672.4 185,681 183.3,696.5 L180.7,737.9 L180.7,775.8 L253,825"/>
<path d="M278,631.9 L212.6,694.8"/>
<path d="M192.7,668.6 L192.7,705.5"/>
<path d="M196.5,715.1 L246.2,741.6 L297.9,768.9 L349.5,791.6 L401.2,813.2 L428.8,825"/>
<ellipse class="f" cx="232.4" cy="714.1" rx="3.79" ry="1.55" transform="rotate(0 232.4 714.1)"/>
<ellipse class="f" cx="328.9" cy="762.8" rx="3.45" ry="1.38" transform="rotate(0 328.9 762.8)"/>
<ellipse class="f" cx="440.0" cy="810.2" rx="3.79" ry="1.38" transform="rotate(0 440.0 810.2)"/>
<path d="M278.9,731 C291,717.2 311.6,701.7 332.3,693.9 L340.1,695.6"/>
<path class="k" d="M303,712 L332.3,696.8"/>
<path d="M289.2,725.8 L332.3,699.6"/>
<path d="M345.8,699.1 L355.6,719.8"/>
<path d="M285.4,734.1 C308.2,728.4 332.3,726.7 354.7,722.7"/>
<path d="M351.3,773.2 C347,772.3 347,768 351.3,765.4 C363.3,758.5 382.3,750.8 396.1,746.8 L401.2,746.8 L416.7,771.5"/>
<path class="k" d="M363.3,762.8 L396.1,750.8"/>
<path d="M356.4,772 C375.4,768 397.8,769.7 417.6,774"/>
<path d="M418.5,805.1 C432.3,801.6 449.5,791.3 460,787"/>
<path d="M430.5,803.3 C442.6,798.2 452.9,795.6 460,794.7"/>
<path d="M427.1,755.1 L440,772.3"/>
<path d="M179.3,736.5 L181,736.5"/>
<path d="M299.8,570 C298.6,583.1 296.9,591.7 294.3,600"/>
<path d="M307.2,570 L305.9,605.5 C305.9,612.4 306.4,617.5 307.2,620 C309.5,629.1 315.3,638.4 324.5,648.7"/>
<path d="M298.6,628.1 L331.4,660.3 L408.4,739.9"/>
<path class="k" d="M317.6,645.1 L332.2,659.8"/>
<path d="M318.8,570 L317.9,596.9 C318.4,608.9 321,617.5 327,626.2 C329.6,631.3 333.1,636.5 340,645.1 L373.9,688.9 L426.5,739.9"/>
<path d="M322.7,570 L323.6,596.9 C324.5,608.9 326.2,615.8 328.8,620.1 L332.2,621 L335.7,624.4 C340,633 343.4,638.2 347.4,642.9 L433.5,739.4"/>
<path d="M338.2,626.2 L360.1,625.1 L368.1,634.9 L463.5,737.1 C465.2,739.4 464.6,741.8 462.3,742.8 L442.8,747.5 L433.5,740.6"/>
<path d="M431.3,740.7 L436.5,738.2 L441.6,745.9"/>
<path d="M357.7,570 L358.4,572.7"/>
<path d="M335.3,570 L336.9,578.8"/>
<path d="M336.9,575.3 L355.5,573.6 L361.5,571 L370.5,565.8 L368.4,593.4 L365.8,603.8 L341.7,625.3"/>
<path d="M356.3,612.4 L371,633 L377.9,629.6 L362.4,608.9"/>
<path d="M359.3,611 L374.8,631.7"/>
<ellipse cx="364.4" cy="555.5" rx="4.82" ry="6.89" transform="rotate(0 364.4 555.5)"/>
<ellipse cx="364.4" cy="555.5" rx="1.72" ry="3.45" transform="rotate(0 364.4 555.5)"/>
<path d="M489.9,630.5 L489.9,691.6"/>
<path d="M489.9,692.5 L495.1,691.6 L503.7,700.3 L503.7,708 L487.3,714 L479.5,705.4"/>
<path class="f" d="M478.7,694.2 L489.9,692.5 L491.6,705.4 L486.4,712.3 Z"/>
<path d="M491.6,700.3 L503.7,700.3 M491.6,700.3 L495.1,691.6 M491.6,705.4 L503.7,708"/>
<path d="M445.1,710.2 L484.7,703.7"/>
<path d="M389.4,652 L413.2,648.2 L469.2,705.4"/>
<path d="M590,644.3 L503.3,739.9"/>
<path d="M590,652 L510.2,739.9"/>
<path d="M459.7,540 L590,610.6"/>
<path d="M472.7,540 L590,604.1"/>
<path d="M507.1,540 L590,585.1"/>
<path class="k" d="M533,753.7 C534.7,743.3 538.1,738.2 543.3,738.2 L550.2,740.7 L556.2,757.1"/>
<path d="M253,825.1 L318.5,865.8 C353,886.5 380.6,898.5 403,910.6"/>
<path d="M419.5,889.9 L403,909.6"/>
<path d="M424.3,889.9 L405.4,911.3"/>
<path d="M429.2,889.9 L408.8,910.6"/>
<path d="M401.2,908.9 L408.8,911.3"/>
<path d="M428.8,825.1 L455.7,834.8"/>
<path d="M532.2,889.9 L532.2,919.9 L509.8,908.2"/>
<path d="M623.9,829.9 L718.3,884.7"/>
<path d="M641.1,829.9 L635.6,837.2"/>
<path d="M408.4,740 L447.7,775.6 C452.8,779.6 457.4,782.3 462.6,783.4"/>
<path d="M426.4,740 L446,757.2 L459.7,768.7 C464.3,772.7 468.9,774.5 473.5,774.5 C475.8,774.2 477.2,772.7 479.3,770.1 L510.3,740"/>
<path d="M434.5,740 L451.7,756.1 L464.3,767.6 C467.8,770.1 471.2,771.2 473.5,771 C475.2,770.8 476.4,769.3 480.4,765 L503.4,740"/>
<path class="k" d="M439.1,750.3 L464.3,769.9 C468.9,773.3 472.4,773.9 475.8,772.7"/>
<path d="M460,787 L474.7,779.1 L479.3,780.4"/>
<path d="M460,794.7 L493,789.2"/>
<path d="M483.3,770.4 C487.3,776.8 495.3,780.8 504,781.9"/>
<path d="M471.8,818.1 C473.5,811.2 478.1,805.5 483.9,802 L511.4,780.8 L517.2,780.8 L523.5,784.8"/>
<path class="k" d="M485,803.8 L510.3,784.2"/>
<path d="M479.3,808.9 L482.7,805.5"/>
<path d="M476.4,818.1 L522.9,796.3"/>
<path class="k" d="M518.9,786 L523.5,785 L533.3,787.3 L535.6,790.5 L525.2,794 Z"/>
<path d="M521.8,790.5 L532.1,805.5"/>
<path d="M531.5,777.3 L560.8,776.2 L586.7,779.6"/>
<path d="M531.5,777.3 L531.5,788.2"/>
<path d="M532.1,779.1 L547,786"/>
<ellipse class="k" cx="551.1" cy="787.7" rx="4.37" ry="6.66" transform="rotate(30 551.1 787.7)"/>
<path d="M533.3,753.2 L537.3,740"/>
<path class="k" d="M549.3,740 L555.1,757.2"/>
<path d="M532.1,764.7 L526.4,782.5"/>
<path class="k" d="M561.4,763.5 L567.1,775"/>
<path d="M562,776.2 L562.6,784.2"/>
<path d="M473.5,831.9 L532.1,808.4 L582.7,791.9"/>
<path d="M560,802.1 L533.3,811.2 L480.4,831.9 L470.1,837.1 L457.4,847.4 L419.5,890"/>
<path d="M560,807.3 L537.9,814.7 L487.3,833.6 L473.5,839.9 L464.3,850.3 L429.3,890"/>
<path d="M557.4,792.3 L568.9,796.9 L566.6,799.7"/>
<path d="M532.1,824.4 L532.1,890"/>
</g>
<g style="opacity:0.999">
<text class="l" style="font-size:27px" transform="scale(0.93,1)" x="1735.4 1752.7 1770.1 1787.4 1804.7" y="77.8">F2710</text>
<text class="l" style="font-size:31.5px" transform="scale(0.93,1)" x="488.4 507.5 526.6 545.6 564.7" y="627.3">92173</text>
<text class="l" style="font-size:31.5px" transform="scale(0.93,1)" x="908.8 927.9 947.0 966.1 985.2 1004.2 1023.3 1042.4 1061.5 1099.7 1118.8 1137.8 1156.9 1176.0 1195.1 1214.2 1233.3 1252.4" y="603.5">Ref.FrontFender(s)</text>
<text class="l" style="font-size:31.5px" transform="scale(0.93,1)" x="791.5 810.6 829.7 848.8 867.8 886.9" y="843.9">92022A</text>
<text class="l" style="font-size:31.5px" transform="scale(0.93,1)" x="748.9 768.0 787.1 806.2 825.3" y="988.7">92152</text>
<text class="l" style="font-size:31.5px" transform="scale(0.93,1)" x="850.9 869.9 889.0 908.1 927.2" y="1047.3">92172</text>
<text class="l" style="font-size:31.5px" transform="scale(0.93,1)" x="138.3 157.4 176.5 195.5 214.6" y="1522.5">92015</text>
<text class="l" style="font-size:31.5px" transform="scale(0.93,1)" x="485.3 504.4 523.4 542.5 561.6" y="1793.5">92015</text>
<text class="l" style="font-size:31.5px" transform="scale(0.93,1)" x="737.4 756.5 775.6 794.7 813.8" y="1306.2">92172</text>
<text class="l" style="font-size:31.5px" transform="scale(0.93,1)" x="952.4 971.5 990.5 1009.6 1028.7" y="1319.8">23020</text>
<text class="l" style="font-size:31.5px" transform="scale(0.93,1)" x="425.1 443.6 462.2 480.7 499.2 536.3" y="1269.2">14092A</text><path d="M471.6,1274.2 L487.6,1244.7" fill="none" stroke="#000" stroke-width="2"/>
<text class="l" style="font-size:31.5px" transform="scale(0.93,1)" x="601.1 620.2 639.2 658.3 677.4" y="1300.9">92143</text>
<text class="l" style="font-size:31.5px" transform="scale(0.93,1)" x="1059.7 1078.8 1097.8 1116.9 1136.0" y="1257.0">23007</text>
<text class="l" style="font-size:31.5px" transform="scale(0.93,1)" x="1194.5 1213.6 1232.7 1251.8 1270.9" y="1321.3">92210</text>
<text class="l" style="font-size:31.5px" transform="scale(0.93,1)" x="1277.5 1296.6 1315.7 1334.8 1353.9" y="1414.4">92069</text>
<text class="l" style="font-size:31.5px" transform="scale(0.93,1)" x="1048.8 1067.9 1087.0 1106.1 1125.2" y="1594.4">92210</text>
<text class="l" style="font-size:31.5px" transform="scale(0.93,1)" x="1178.6 1197.7 1216.8 1235.9 1254.9" y="1607.8">92081</text>
<text class="l" style="font-size:31.5px" transform="scale(0.93,1)" x="1398.7 1417.4 1436.1 1454.8 1473.5 1492.3 1529.7" y="1375.8">14092BC</text><path d="M1395.2,1380.8 L1411.2,1351.3" fill="none" stroke="#000" stroke-width="2"/>
<text class="l" style="font-size:31.5px" transform="scale(0.93,1)" x="1611.3 1630.4 1649.5 1668.5 1687.6" y="1362.7">92075</text>
<text class="l" style="font-size:31.5px" transform="scale(0.93,1)" x="1720.3 1739.4 1758.5 1777.6 1796.7" y="1309.6">92022</text>
<text class="l" style="font-size:31.5px" transform="scale(0.93,1)" x="1813.0 1832.1 1851.2" y="1448.4">132</text>
<text class="l" style="font-size:31.5px" transform="scale(0.93,1)" x="1674.7 1693.8 1712.9 1732.0 1751.1" y="1511.4">92027</text>
<text class="l" style="font-size:31.5px" transform="scale(0.93,1)" x="1597.4 1616.5 1635.6 1654.7 1673.8 1692.8" y="1672.1">92172A</text>
<text class="l" style="font-size:31.5px" transform="scale(0.93,1)" x="1088.2 1107.3 1126.3 1145.4 1164.5" y="1655.6">92027</text>
<text class="l" style="font-size:31.5px" transform="scale(0.93,1)" x="978.7 997.8 1016.9" y="1723.4">132</text>
<text class="l" style="font-size:31.5px" transform="scale(0.93,1)" x="1161.0 1180.1 1199.1 1218.2 1237.3" y="1796.5">92075</text>
<text class="l" style="font-size:31.5px" transform="scale(0.93,1)" x="1046.1 1065.2 1084.3 1103.4 1122.5" y="1855.5">92022</text>
<text class="l" style="font-size:31.5px" transform="scale(0.93,1)" x="1288.9 1308.0 1327.1 1346.2 1365.3 1384.4" y="1754.7">92015A</text>
<text class="l" style="font-size:31.5px" transform="scale(0.93,1)" x="1581.6 1600.7 1619.8" y="1815.1">224</text>
<text class="l" style="font-size:31.5px" transform="scale(0.93,1)" x="121.4 140.5 159.6 178.7 197.7 216.8 235.9 255.0 274.1 312.3 331.3 350.4 369.5 388.6 407.7 426.8 445.9 464.9" y="1611.4">Ref.FrontFender(s)</text>
<circle cx="489.8" cy="897" r="21.8" fill="none" stroke="#000" stroke-width="2"/>
<text class="l" style="font-size:30px" transform="scale(0.93,1)" x="526.667" y="907.5">B</text>
<circle cx="734.3" cy="1710.1" r="22.3" fill="none" stroke="#000" stroke-width="2"/>
<text class="l" style="font-size:30px" transform="scale(0.93,1)" x="789.57" y="1720.6">B</text>
<circle cx="919.7" cy="1474.2" r="22.4" fill="none" stroke="#000" stroke-width="2"/>
<text class="l" style="font-size:30px" transform="scale(0.93,1)" x="988.925" y="1484.7">A</text>
<circle cx="1300.8" cy="1512.3" r="22.4" fill="none" stroke="#000" stroke-width="2"/>
<text class="l" style="font-size:30px" transform="scale(0.93,1)" x="1398.71" y="1522.8">A</text>
<path d="M248.7,1108 H526.3 V1204 H248.7 Z M360,1108 V1204 M248.7,1155.8 H526.3" fill="none" stroke="#000" stroke-width="2"/>
<text class="l" style="font-size:29.5px" transform="scale(0.93,1)" x="307.6 327.4" y="1142.9">LH</text>
<text class="l" style="font-size:29.5px" transform="scale(0.93,1)" x="407.5 426.8 446.0 465.3 484.5 503.8 523.0" y="1142.9">(14092)</text>
<text class="l" style="font-size:29.5px" transform="scale(0.93,1)" x="307.6 327.4" y="1190.7">RH</text>
<text class="l" style="font-size:29.5px" transform="scale(0.93,1)" x="407.5 426.8 446.0 465.3 484.5 503.8 523.0 542.3" y="1190.7">(14092A)</text>
<path d="M1229.9,1186.9 H1506.3 V1282.5 H1229.9 Z M1339.9,1186.9 V1282.5 M1229.9,1234.7 H1506.3" fill="none" stroke="#000" stroke-width="2"/>
<text class="l" style="font-size:29.5px" transform="scale(0.93,1)" x="1362.7 1382.5" y="1221.1">LH</text>
<text class="l" style="font-size:29.5px" transform="scale(0.93,1)" x="1462.6 1481.8 1501.1 1520.3 1539.6 1558.8 1578.1 1597.3" y="1221.1">(14092B)</text>
<text class="l" style="font-size:29.5px" transform="scale(0.93,1)" x="1362.7 1382.5" y="1269.3">RH</text>
<text class="l" style="font-size:29.5px" transform="scale(0.93,1)" x="1462.6 1481.8 1501.1 1520.3 1539.6 1558.8 1578.1 1597.3" y="1269.3">(14092C)</text>
<g stroke="#000" stroke-width="2" stroke-linejoin="miter">
<path d="M174.9,117.3 L186.6,109 L187.6,109.5 L187.6,132 L280.9,185.2 L280.9,238 L268.2,244.3 L268.2,193 L174.9,139.8 Z" fill="#000"/>
<path d="M174.9,188.6 L187.6,196 L187.6,206.2 L174.9,212.5 Z" fill="#000"/>
<path d="M148.6,147.6 L174.9,117.3 L174.9,139.8 L268.2,193 L268.2,244.3 L174.9,188.6 L173.9,212.3 Z" fill="#fff"/>
</g>
<path transform="matrix(1,0.577,0,1,167.2,145.5)" d="M0,27 L0,0 L7.7,0 M0,12.5 L7.7,12.5" fill="none" stroke="#000" stroke-width="4" stroke-linecap="butt" stroke-linejoin="miter"/>
<path transform="matrix(1,0.577,0,1,188.2,157.785)" d="M0,27 L0,0 L5.1,0 C10.2,0 10.2,12.5 5.1,12.5 L0,12.5 M5.1,12.5 L10.2,27" fill="none" stroke="#000" stroke-width="4" stroke-linecap="butt" stroke-linejoin="miter"/>
<path transform="matrix(1,0.577,0,1,209.3,170.129)" d="M6.1,0 C-0.5,0 -0.5,27 6.1,27 C12.7,27 12.7,0 6.1,0 Z" fill="none" stroke="#000" stroke-width="4" stroke-linecap="butt" stroke-linejoin="miter"/>
<path transform="matrix(1,0.577,0,1,232.1,183.466)" d="M0,27 L0,0 L8.7,27 L8.7,0" fill="none" stroke="#000" stroke-width="4" stroke-linecap="butt" stroke-linejoin="miter"/>
<path transform="matrix(1,0.577,0,1,254.1,196.337)" d="M-2,0 L8.2,0 M3.85,0 L3.85,27" fill="none" stroke="#000" stroke-width="4" stroke-linecap="butt" stroke-linejoin="miter"/>
</g>
</svg></body></html>
